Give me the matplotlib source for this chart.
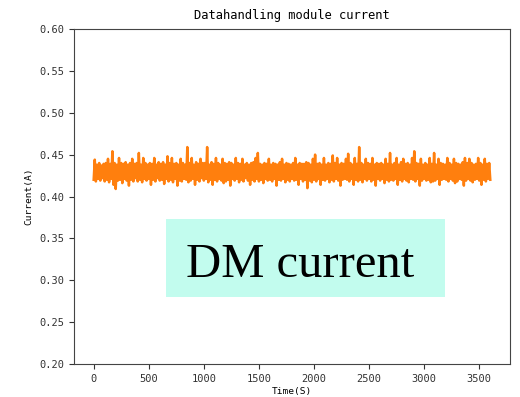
import matplotlib
matplotlib.use('Agg')
import matplotlib.pyplot as plt
from matplotlib.patches import Rectangle
import numpy as np

current_ma = [
    420, 444, 418, 438, 421, 440, 419, 437, 422, 439,
    418, 440, 420, 445, 417, 439, 421, 454, 414, 440,
    409, 438, 419, 446, 420, 440, 416, 439, 421, 441,
    419, 438, 413, 440, 420, 445, 418, 439, 422, 440,
    418, 452, 420, 438, 417, 446, 421, 440, 419, 438,
    421, 440, 414, 439, 420, 446, 418, 438, 422, 441,
    419, 439, 420, 441, 415, 438, 421, 448, 418, 440,
    420, 446, 417, 439, 421, 440, 413, 438, 419, 445,
    418, 440, 421, 438, 420, 459, 417, 440, 419, 446,
    421, 438, 414, 441, 420, 439, 418, 445, 422, 440,
    419, 440, 421, 459, 417, 438, 420, 441, 414, 439,
    420, 446, 418, 440, 421, 438, 419, 445, 416, 440,
    418, 439, 420, 441, 413, 440, 421, 438, 419, 446,
    421, 440, 417, 439, 420, 445, 418, 438, 422, 440,
    419, 438, 414, 440, 420, 441, 418, 446, 421, 452,
    418, 439, 420, 438, 416, 440, 421, 439, 419, 445,
    420, 438, 418, 440, 421, 439, 413, 438, 420, 441,
    419, 445, 421, 438, 417, 440, 420, 439, 418, 438,
    421, 440, 419, 446, 420, 438, 414, 440, 421, 439,
    418, 439, 420, 441, 410, 440, 419, 438, 417, 445,
    420, 450, 418, 439, 421, 440, 414, 438, 420, 446,
    419, 438, 421, 440, 417, 439, 420, 449, 418, 440,
    421, 446, 419, 438, 413, 440, 420, 439, 421, 445,
    420, 451, 418, 440, 421, 438, 414, 446, 420, 439,
    418, 459, 420, 440, 417, 438, 421, 445, 419, 440,
    421, 439, 418, 446, 420, 438, 413, 440, 421, 439,
    419, 440, 421, 438, 416, 445, 420, 439, 418, 452,
    420, 438, 419, 440, 421, 446, 414, 438, 420, 441,
    418, 445, 421, 439, 419, 440, 417, 438, 421, 446,
    420, 454, 418, 440, 421, 439, 413, 445, 419, 438,
    421, 440, 419, 438, 420, 446, 417, 439, 418, 452,
    419, 438, 421, 445, 414, 440, 420, 439, 421, 438,
    420, 446, 418, 440, 421, 438, 419, 445, 416, 440,
    418, 439, 421, 438, 420, 441, 413, 446, 419, 440,
    421, 445, 419, 440, 417, 438, 420, 439, 421, 446,
    419, 440, 414, 438, 420, 445, 418, 439, 421, 440,
    420,
]
time_s = np.arange(len(current_ma)) * 10
current_a = np.array(current_ma) / 1000.0

mono = 'DejaVu Sans Mono'

fig = plt.figure(figsize=(5.2, 3.97), dpi=100)
ax = fig.add_axes([0.142, 0.083, 0.839, 0.844])
ax.plot(time_s, current_a, color='#ff7f0e', lw=1.8)

ax.set_ylim(0.2, 0.6)
ax.set_yticks(np.arange(0.2, 0.601, 0.05))
ax.set_xticks(np.arange(0, 3501, 500))
for lab in ax.get_xticklabels() + ax.get_yticklabels():
    lab.set_fontfamily(mono)
    lab.set_fontsize(7.5)
ax.tick_params(length=3.5, width=0.8, colors='#333333')
for s in ax.spines.values():
    s.set_color('#444444')

ax.set_title('Datahandling module current', family=mono, fontsize=8.7, pad=7)
ax.set_xlabel('Time(S)', family=mono, fontsize=6.8, labelpad=2)
ax.set_ylabel('Current(A)', family=mono, fontsize=6.8, labelpad=4)

# overlaid label box
fig.add_artist(Rectangle((0.319, 0.252), 0.537, 0.196, transform=fig.transFigure,
                         facecolor='#c2fcee', edgecolor='none', zorder=5))
fig.text(0.358, 0.302, 'DM current', family='Liberation Serif', fontsize=35,
         ha='left', va='baseline', zorder=6)

fig.savefig('out.png', dpi=100)
